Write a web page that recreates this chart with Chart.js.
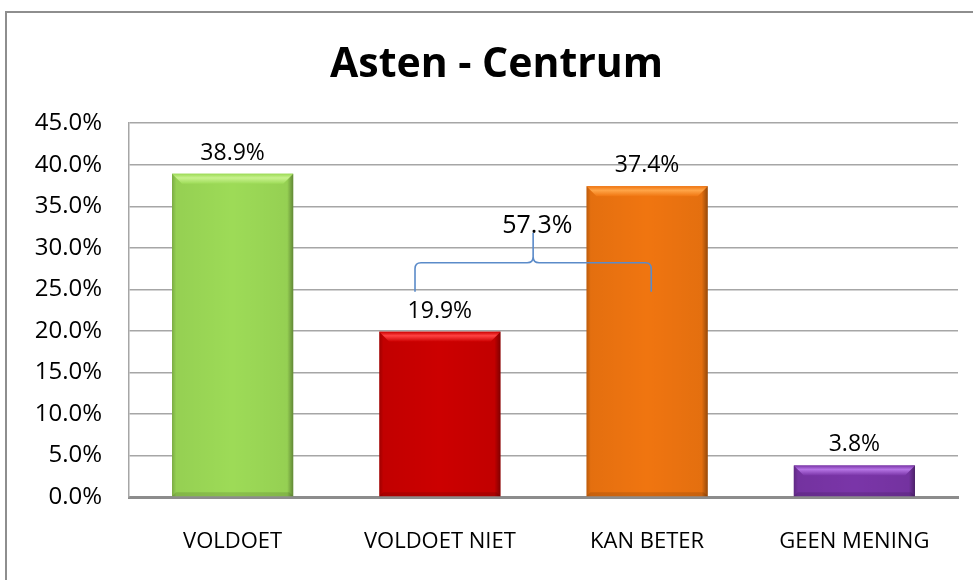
<!DOCTYPE html>
<html>
<head>
<meta charset="utf-8">
<script src="https://cdn.jsdelivr.net/npm/chart.js"></script>
<style>
  html, body { margin: 0; padding: 0; overflow: hidden; background: #fff; }
  #frame { position: absolute; left: 5px; top: 11px; width: 1000px; height: 600px; border: 2px solid #8e8e8e; }
  #chart { position: absolute; left: 0; top: 0; }
</style>
</head>
<body>
<div id="frame"></div>
<canvas id="chart" width="994" height="580"></canvas>
<script>
const categories = ['VOLDOET', 'VOLDOET NIET', 'KAN BETER', 'GEEN MENING'];
const values = [38.9, 19.9, 37.4, 3.8];
const faceColors = ['#9ddb57', '#cc0000', '#f07510', '#7a35a8'];
const topColors = ['#c8f28e', '#ff4242', '#ffa548', '#b574e4'];

// brace between VOLDOET NIET and KAN BETER (category index / percentage)
const braceX = [0.88, 1.45, 2.02];
const braceY = [24.7, 28.2, 31.8];
const braceLabelPos = [1.47, 32.6];

const fontFamily = '"Open Sans", sans-serif';

const barLabels = {
    id: 'barLabels',
    afterDatasetsDraw(chart) {
        const ctx = chart.ctx;
        const meta = chart.getDatasetMeta(0);
        meta.data.forEach((bar, i) => {
            const { x, y, base, width } = bar.getProps(['x', 'y', 'base', 'width'], true);
            const left = x - width / 2;
            const right = x + width / 2;
            const h = base - y;
            ctx.save();
            // side shading
            let g = ctx.createLinearGradient(left, 0, right, 0);
            g.addColorStop(0, 'rgba(0,0,0,0.22)');
            g.addColorStop(0.035, 'rgba(0,0,0,0.05)');
            g.addColorStop(0.5, 'rgba(0,0,0,0)');
            g.addColorStop(0.95, 'rgba(0,0,0,0.05)');
            g.addColorStop(1, 'rgba(0,0,0,0.38)');
            ctx.fillStyle = g;
            ctx.fillRect(left, y, width, h);
            // top bevel
            const bev = Math.min(10, h / 2);
            ctx.beginPath();
            ctx.moveTo(left, y);
            ctx.lineTo(right, y);
            ctx.lineTo(right - bev, y + bev);
            ctx.lineTo(left + bev, y + bev);
            ctx.closePath();
            let tg = ctx.createLinearGradient(0, y, 0, y + bev);
            tg.addColorStop(0, faceColors[i]);
            tg.addColorStop(0.4, topColors[i]);
            tg.addColorStop(1, faceColors[i]);
            ctx.fillStyle = tg;
            ctx.fill();
            // bottom bevel
            ctx.beginPath();
            ctx.moveTo(left, base);
            ctx.lineTo(right, base);
            ctx.lineTo(right - 4, base - 4);
            ctx.lineTo(left + 4, base - 4);
            ctx.closePath();
            ctx.fillStyle = 'rgba(0,0,0,0.12)';
            ctx.fill();
            ctx.restore();

            ctx.save();
            ctx.fillStyle = '#000';
            ctx.font = '23px ' + fontFamily;
            ctx.textAlign = 'center';
            ctx.textBaseline = 'bottom';
            ctx.fillText(values[i].toFixed(1) + '%', x, y - 9);
            ctx.restore();
        });

        // brace
        const xs = chart.scales.x;
        const ys = chart.scales.y;
        const x1 = xs.getPixelForValue(braceX[0]);
        const xm = xs.getPixelForValue(braceX[1]);
        const x2 = xs.getPixelForValue(braceX[2]);
        const yb = ys.getPixelForValue(braceY[0]);
        const yh = ys.getPixelForValue(braceY[1]);
        const yp = ys.getPixelForValue(braceY[2]);
        const r = 6;
        ctx.save();
        ctx.strokeStyle = '#5b8bc9';
        ctx.lineWidth = 1.6;
        ctx.beginPath();
        ctx.moveTo(x1, yb);
        ctx.lineTo(x1, yh + r);
        ctx.quadraticCurveTo(x1, yh, x1 + r, yh);
        ctx.lineTo(xm - r, yh);
        ctx.quadraticCurveTo(xm, yh, xm, yh - r);
        ctx.lineTo(xm, yp);
        ctx.moveTo(xm, yh - r);
        ctx.quadraticCurveTo(xm, yh, xm + r, yh);
        ctx.lineTo(x2 - r, yh);
        ctx.quadraticCurveTo(x2, yh, x2, yh + r);
        ctx.lineTo(x2, yb);
        ctx.stroke();
        ctx.restore();

        ctx.save();
        ctx.fillStyle = '#000';
        ctx.font = '25px ' + fontFamily;
        ctx.textAlign = 'center';
        ctx.textBaseline = 'middle';
        ctx.fillText((values[1] + values[2]).toFixed(1) + '%',
            xs.getPixelForValue(braceLabelPos[0]), ys.getPixelForValue(braceLabelPos[1]));
        ctx.restore();
    }
};

const ctx = document.getElementById('chart').getContext('2d');
new Chart(ctx, {
    type: 'bar',
    data: {
        labels: categories,
        datasets: [
            {
                data: values,
                backgroundColor: faceColors,
                borderWidth: 0,
                categoryPercentage: 1,
                barPercentage: 0.585
            }
        ]
    },
    options: {
        responsive: false,
        animation: false,
        layout: {
            padding: { left: 35, right: 36, top: 10, bottom: 26 }
        },
        plugins: {
            legend: { display: false },
            tooltip: { enabled: false },
            title: {
                display: true,
                text: 'Asten - Centrum',
                color: '#000',
                font: { family: fontFamily, size: 41, weight: 'bold' },
                padding: { top: 31, bottom: 33 }
            }
        },
        scales: {
            x: {
                grid: { display: false, drawTicks: false },
                border: { display: true, color: '#8c8c8c', width: 3 },
                ticks: {
                    color: '#000',
                    padding: 32,
                    font: { family: fontFamily, size: 22 }
                },
                afterFit: (scale) => { scale.height = 57; scale.paddingLeft = 0; scale.paddingRight = 0; }
            },
            y: {
                min: 0,
                max: 45,
                ticks: {
                    stepSize: 5,
                    color: '#000',
                    padding: 27,
                    font: { family: fontFamily, size: 24 },
                    callback: (v) => v.toFixed(1) + '%'
                },
                grid: { color: '#a6a6a6', lineWidth: 1.5, drawTicks: false },
                border: { display: true, color: '#a6a6a6', width: 1.5 },
                afterFit: (scale) => { scale.width = 94; scale.paddingTop = 0; scale.paddingBottom = 0; }
            }
        }
    },
    plugins: [barLabels]
});
</script>
</body>
</html>
